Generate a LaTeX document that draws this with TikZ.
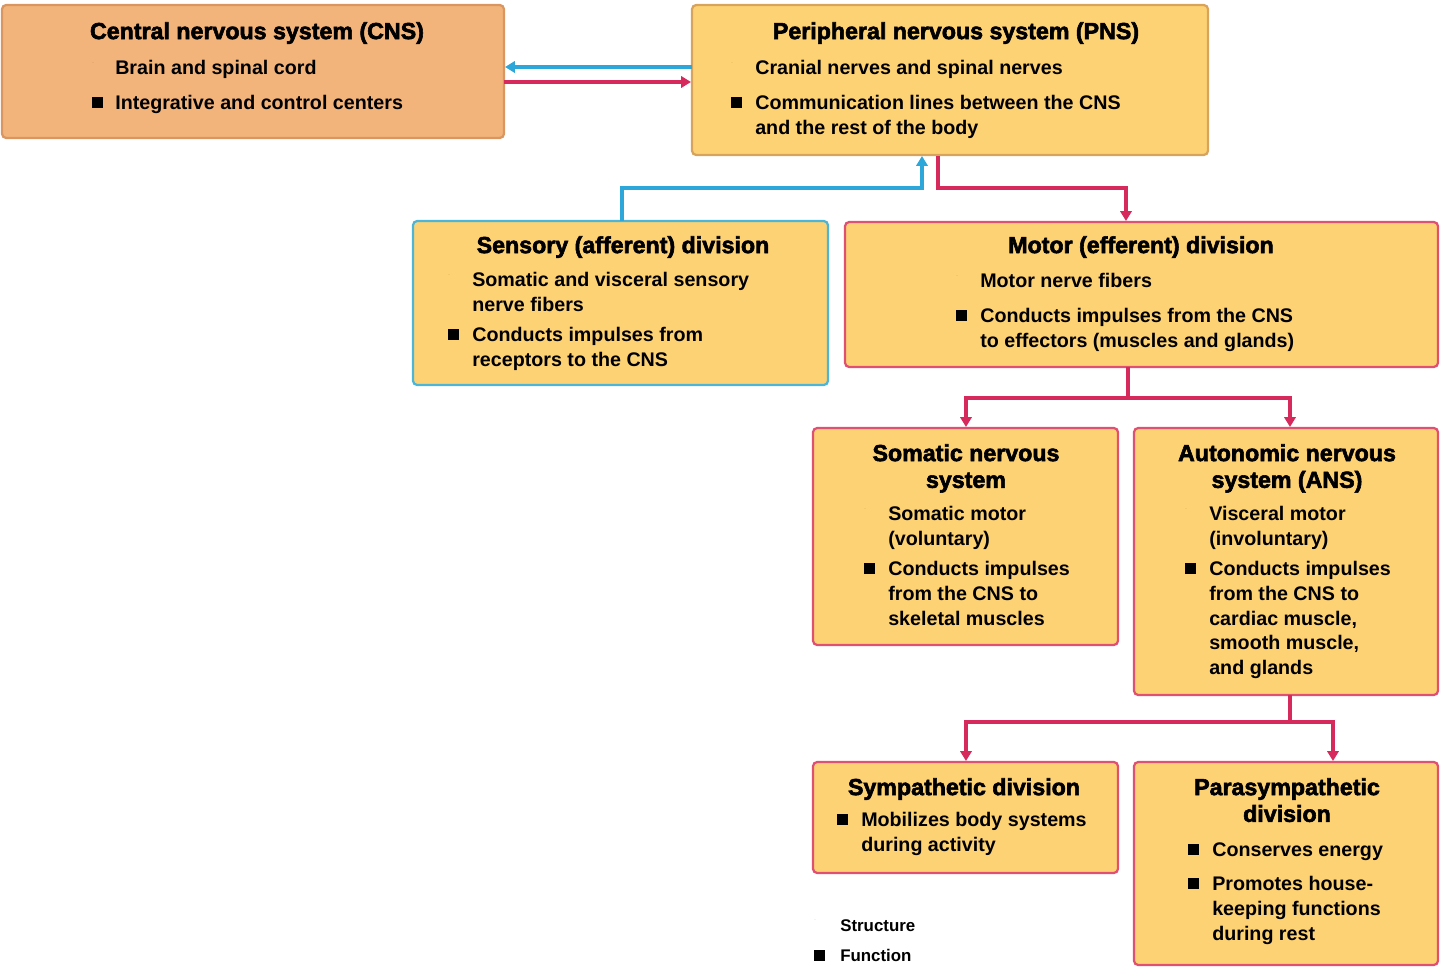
\documentclass[tikz,border=0pt]{standalone}
\usepackage{fontspec}
\setmainfont{Liberation Sans}
\newfontfamily\heavy{Liberation Sans}[FakeBold=2.5]
\usetikzlibrary{arrows.meta}
\definecolor{yel}{HTML}{FDD275}
\definecolor{cnsf}{HTML}{F2B47A}
\definecolor{tanb}{HTML}{D8A45C}
\definecolor{cnsb}{HTML}{D99660}
\definecolor{blu}{HTML}{2DA6DA}
\definecolor{cyb}{HTML}{4DB6D6}
\definecolor{rd}{HTML}{D62A5C}
\definecolor{rdb}{HTML}{E05070}
\newcommand\dotb{\raisebox{0.25ex}{\tikz\fill (0,0) circle (0.16);}}
\newcommand\sqb{\raisebox{0.15ex}{\rule{0.28cm}{0.28cm}}}
\begin{document}
\begin{tikzpicture}[x=0.025cm,y=-0.025cm,
 box/.style={rounded corners=3pt,line width=1.6pt,fill=yel,draw=tanb},
 ttl/.style={font=\fontsize{16.5}{19}\selectfont\bfseries\heavy,align=center,anchor=north,inner sep=0},
 txt/.style={font=\fontsize{14}{17.6}\selectfont\bfseries,align=left,anchor=north west,inner sep=0},
 bl/.style={anchor=north west,inner sep=0,font=\fontsize{14}{17.6}\selectfont},
 ar/.style={line width=2.2pt,-{Triangle[length=7pt,width=8pt]}},
 ln/.style={line width=2.2pt}]
\useasboundingbox (0,0) rectangle (1440,973);
% boxes
\draw[box,fill=cnsf,draw=cnsb] (2,5) rectangle (504,138); \coordinate (cns) at (504,0);
\draw[box] (692,5) rectangle (1208,155);
\draw[box,draw=cyb] (413,221) rectangle (828,385);
\draw[box,draw=rdb] (845,222) rectangle (1438,367);
\draw[box,draw=rdb] (813,428) rectangle (1118,645);
\draw[box,draw=rdb] (1134,428) rectangle (1438,695);
\draw[box,draw=rdb] (813,762) rectangle (1118,873);
\draw[box,draw=rdb] (1134,762) rectangle (1438,965);
% CNS
\node[ttl] (t1) at (257,22) {Central nervous system (CNS)};
\node[bl] (b1) at (92,62) {\dotb}; \node[txt] (x1) at (115,60) {Brain and spinal cord};
\node[bl] (b2) at (92,97) {\sqb}; \node[txt] (x2) at (115,95) {Integrative and control centers};
% PNS
\node[ttl] (t2) at (956,22) {Peripheral nervous system (PNS)};
\node[bl] (b3) at (731,62) {\dotb}; \node[txt] (x3) at (755,60) {Cranial nerves and spinal nerves};
\node[bl] (b4) at (731,97) {\sqb}; \node[txt] (x4) at (755,95) {Communication lines between the CNS\\and the rest of the body};
% Sensory
\node[ttl] (t3) at (623,236) {Sensory (afferent) division};
\node[bl] (b5) at (448,274) {\dotb}; \node[txt] (x5) at (472,272) {Somatic and visceral sensory\\nerve fibers};
\node[bl] (b6) at (448,329) {\sqb}; \node[txt] (x6) at (472,327) {Conducts impulses from\\receptors to the CNS};
% Motor
\node[ttl] (t4) at (1141,236) {Motor (efferent) division};
\node[bl] (b7) at (956,275) {\dotb}; \node[txt] (x7) at (980,273) {Motor nerve fibers};
\node[bl] (b8) at (956,310) {\sqb}; \node[txt] (x8) at (980,308) {Conducts impulses from the CNS\\to effectors (muscles and glands)};
% Somatic
\node[ttl] (t5) at (966,444) {Somatic nervous\\system};
\node[bl] (b9) at (864,508) {\dotb}; \node[txt] (x9) at (888,506) {Somatic motor\\(voluntary)};
\node[bl] (b10) at (864,563) {\sqb}; \node[txt] (x10) at (888,561) {Conducts impulses\\from the CNS to\\skeletal muscles};
% ANS
\node[ttl] (t6) at (1287,444) {Autonomic nervous\\system (ANS)};
\node[bl] (b11) at (1185,508) {\dotb}; \node[txt] (x11) at (1209,506) {Visceral motor\\(involuntary)};
\node[bl] (b12) at (1185,563) {\sqb}; \node[txt] (x12) at (1209,561) {Conducts impulses\\from the CNS to\\cardiac muscle,\\smooth muscle,\\and glands};
% Sympathetic
\node[ttl] (t7) at (964,778) {Sympathetic division};
\node[bl] (b13) at (837,814) {\sqb}; \node[txt] (x13) at (861,812) {Mobilizes body systems\\during activity};
% Parasympathetic
\node[ttl] (t8) at (1287,778) {Parasympathetic\\division};
\node[bl] (b14) at (1188,844) {\sqb}; \node[txt] (x14) at (1212,842) {Conserves energy};
\node[bl] (b15) at (1188,878) {\sqb}; \node[txt] (x15) at (1212,876) {Promotes house-\\keeping functions\\during rest};
% legend
\node[bl] (b16) at (814,919) {\dotb}; \node[txt,font=\fontsize{12}{14}\selectfont\bfseries] (x16) at (840,919) {Structure};
\node[bl] (b17) at (814,950) {\sqb}; \node[txt,font=\fontsize{12}{14}\selectfont\bfseries] (x17) at (840,949) {Function};
% connectors
\coordinate (pL1) at (692,67); \coordinate (cR1) at (505,67);
\coordinate (cR2) at (504,82); \coordinate (pL2) at (691,82);
\draw[ar,blu] (pL1) -- (cR1);
\draw[ar,rd] (cR2) -- (pL2);
\coordinate (sT) at (622,221); \coordinate (pB1) at (922,156);
\draw[ar,blu] (sT) |- (922,188) -- (pB1);
\coordinate (pB2) at (938,156); \coordinate (mT) at (1126,221);
\draw[ar,rd] (pB2) |- (1126,188) -- (mT);
\coordinate (mB) at (1128,367); \coordinate (soT) at (966,427); \coordinate (anT) at (1290,427);
\draw[ln,rd] (mB) -- (1128,398);
\draw[ar,rd] (1128,398) -| (soT);
\draw[ar,rd] (1128,398) -| (anT);
\coordinate (aB) at (1290,695); \coordinate (syT) at (966,761); \coordinate (paT) at (1333,761);
\draw[ln,rd] (aB) -- (1290,722);
\draw[ar,rd] (1290,722) -| (syT);
\draw[ar,rd] (1290,722) -| (paT);
\end{tikzpicture}
\end{document}
